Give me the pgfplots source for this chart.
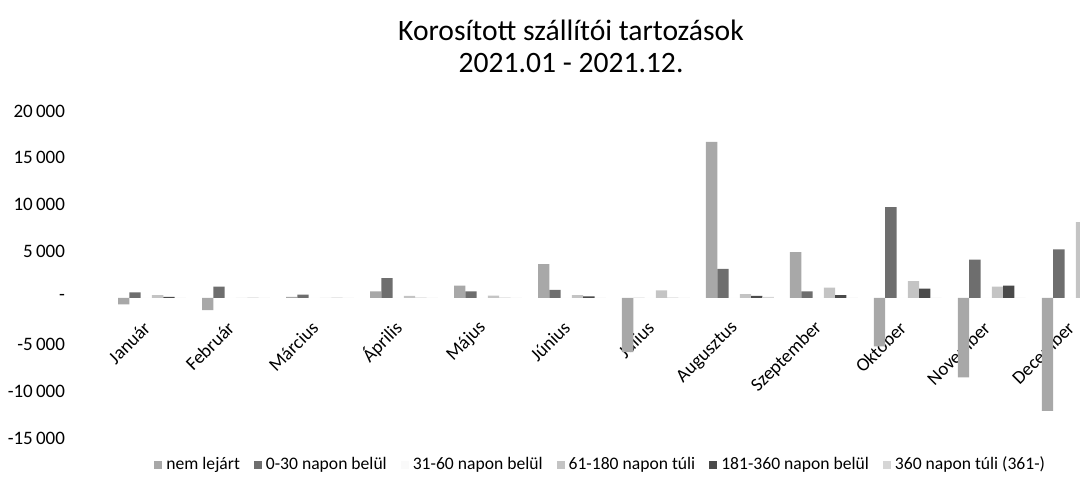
\documentclass[border=0pt]{standalone}
\usepackage{fontspec}
\setmainfont{Carlito}
\usepackage{pgfplots}
\pgfplotsset{compat=1.18}
\definecolor{cA}{HTML}{A8A8A8}
\definecolor{cB}{HTML}{6E6E6E}
\definecolor{cC}{HTML}{FAFAFA}
\definecolor{cD}{HTML}{C4C4C4}
\definecolor{cE}{HTML}{4A4A4A}
\definecolor{cF}{HTML}{D6D6D6}
\begin{document}
\begin{tikzpicture}
\useasboundingbox (0,0) rectangle (540pt,247pt);
\node[align=center, font=\fontsize{14.8}{16}\selectfont] at (285.5pt,224pt) {Korosított szállítói tartozások\\2021.01 - 2021.12.};
\begin{axis}[
  at={(55pt,28pt)}, anchor=south west,
  scale only axis, width=485pt, height=163.5pt,
  xmin=-0.5, xmax=11.05, ymin=-15000, ymax=20000,
  ybar=0pt, bar width=5.65pt,
  scaled y ticks=false,
  axis line style={draw=none}, tick style={draw=none}, major tick length=0pt,
  xtick={0,...,11},
  xticklabels={Január,Február,Március,Április,Május,Június,Július,Augusztus,Szeptember,Október,November,December},
  xticklabel style={yshift=59pt, rotate=45, anchor=east, font=\fontsize{9.4}{10}\selectfont},
  ytick={-15000,-10000,-5000,0,5000,10000,15000,20000},
  yticklabels={-15\,000,-10\,000,-5\,000,-\hspace{3pt},5\,000,10\,000,15\,000,20\,000},
  yticklabel style={font=\fontsize{9.5}{10}\selectfont, anchor=east, xshift=-19pt},
  legend columns=6,
  legend style={at={(axis description cs:0.0392,-0.0826)}, anchor=west, draw=none, fill=none,
    font=\fontsize{8.8}{10}\selectfont,
    /tikz/every even column/.append style={column sep=5pt}},
  legend image code/.code={\fill[#1] (0pt,-2pt) rectangle (4pt,2pt);},
  every axis plot/.append style={draw=none},
]
\addplot[fill=cA] coordinates {(0,-700) (1,-1300) (2,100) (3,700) (4,1300) (5,3600) (6,-5800) (7,16700) (8,4900) (9,-5200) (10,-8500) (11,-12100)};
\addplot[fill=cB] coordinates {(0,600) (1,1200) (2,350) (3,2100) (4,700) (5,850) (6,0) (7,3100) (8,700) (9,9700) (10,4100) (11,5200)};
\addplot[fill=cC] coordinates {(0,0) (1,0) (2,0) (3,0) (4,0) (5,0) (6,0) (7,0) (8,0) (9,0) (10,0) (11,0)};
\addplot[fill=cD] coordinates {(0,300) (1,0) (2,0) (3,200) (4,250) (5,300) (6,800) (7,400) (8,1100) (9,1800) (10,1200) (11,8100)};
\addplot[fill=cE] coordinates {(0,100) (1,0) (2,0) (3,0) (4,0) (5,150) (6,0) (7,200) (8,300) (9,1000) (10,1300) (11,0)};
\addplot[fill=cF] coordinates {(0,0) (1,0) (2,0) (3,0) (4,0) (5,0) (6,0) (7,100) (8,0) (9,0) (10,0) (11,0)};
\legend{nem lejárt,0-30 napon belül,31-60 napon belül,61-180 napon túli,181-360 napon belül,360 napon túli (361-)}
\end{axis}
\end{tikzpicture}
\end{document}
